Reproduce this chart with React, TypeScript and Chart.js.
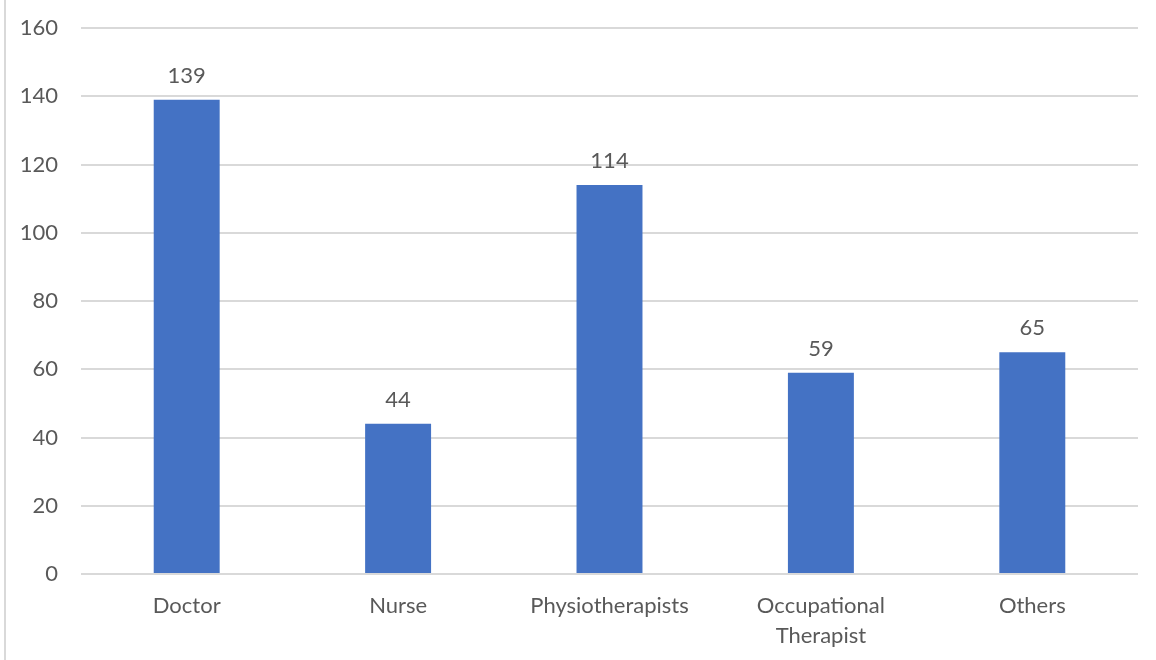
import React, { useEffect, useRef } from "react";
import { Chart, registerables } from "chart.js";

Chart.register(...registerables);

const categories: (string | string[])[] = [
  "Doctor",
  "Nurse",
  "Physiotherapists",
  ["Occupational", "Therapist"],
  "Others",
];
const counts: number[] = [139, 44, 114, 59, 65];
const yMin = 0;
const yMax = 160;
const yStep = 20;

const FONT = "Lato, 'Open Sans', sans-serif";
const TEXT = "#595959";
const FONT_SIZE = 22;

const labelsPlugin = {
  id: "barValueLabels",
  afterDatasetsDraw(chart: any) {
    const ctx = chart.ctx;
    const meta = chart.getDatasetMeta(0);
    ctx.save();
    ctx.font = `${FONT_SIZE}px ${FONT}`;
    ctx.fillStyle = TEXT;
    ctx.textAlign = "center";
    ctx.textBaseline = "alphabetic";
    meta.data.forEach((bar: any, i: number) => {
      ctx.fillText(String(counts[i]), bar.x, bar.y - 17);
    });
    ctx.restore();
  },
};

const framePlugin = {
  id: "frameLine",
  beforeDraw(chart: any) {
    const ctx = chart.ctx;
    ctx.save();
    ctx.fillStyle = "#ffffff";
    ctx.fillRect(0, 0, chart.width, chart.height);
    ctx.fillStyle = "#d9d9d9";
    ctx.fillRect(4, 0, 2, chart.height);
    ctx.restore();
  },
};

export default function App() {
  const ref = useRef<HTMLCanvasElement | null>(null);

  useEffect(() => {
    if (!ref.current) return;
    const chart = new Chart(ref.current, {
      type: "bar",
      data: {
        labels: categories,
        datasets: [
          {
            data: counts,
            backgroundColor: "#4472c4",
            borderWidth: 0,
            barPercentage: 0.312,
            categoryPercentage: 1,
          },
        ],
      },
      options: {
        animation: false,
        responsive: false,
        maintainAspectRatio: false,
        layout: { padding: { top: 28, right: 18, bottom: 0, left: 0 } },
        plugins: {
          legend: { display: false },
          tooltip: { enabled: false },
          title: { display: false },
        },
        scales: {
          x: {
            grid: { display: false },
            border: { display: false },
            ticks: {
              color: TEXT,
              font: { family: FONT, size: FONT_SIZE, lineHeight: 1.36 },
              padding: 9,
              autoSkip: false,
              maxRotation: 0,
              minRotation: 0,
            },
            afterFit: (s: any) => {
              s.height = 660 - 574;
            },
          },
          y: {
            min: yMin,
            max: yMax,
            border: { display: false },
            grid: { color: "#d9d9d9", lineWidth: 2, drawTicks: false },
            ticks: {
              stepSize: yStep,
              color: TEXT,
              font: { family: FONT, size: FONT_SIZE },
              padding: 23,
            },
            afterFit: (s: any) => {
              s.width = 81;
              s.paddingTop = 0;
              s.paddingBottom = 0;
            },
          },
        },
      },
      plugins: [framePlugin, labelsPlugin],
    });
    return () => chart.destroy();
  }, []);

  return (
    <div style={{ position: "fixed", left: 0, top: 0, width: 1156, height: 660, background: "#fff" }}>
      <canvas ref={ref} width={1156} height={660} style={{ display: "block" }} />
    </div>
  );
}
